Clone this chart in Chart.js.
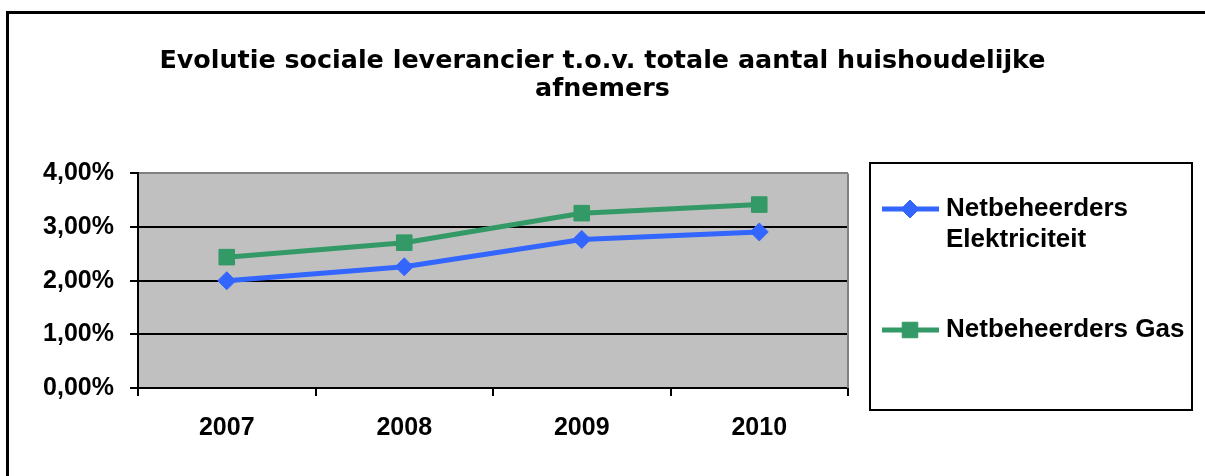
<!DOCTYPE html>
<html><head><meta charset="utf-8">
<script src="https://cdn.jsdelivr.net/npm/chart.js@4/dist/chart.umd.min.js"></script>
<style>html,body{margin:0;padding:0;background:#fff;} #wrap{width:1205px;height:476px;position:relative;}</style>
</head><body><div id="wrap"><canvas id="c" width="1205" height="476"></canvas></div>
<script>
const categories = ['2007', '2008', '2009', '2010'];
const elektriciteit = [2.00, 2.26, 2.77, 2.91];
const gas = [2.44, 2.71, 3.26, 3.42];
const seriesNames = ['Netbeheerders Elektriciteit', 'Netbeheerders Gas'];
const titleLines = ['Evolutie sociale leverancier t.o.v. totale aantal huishoudelijke', 'afnemers'];
const yMin = 0, yMax = 4, yStep = 1;

const ARIAL = '"Liberation Sans", Arial, sans-serif';
const TITLEFONT = '"DejaVu Sans", Verdana, sans-serif';

const backgroundPlugin = {
  id: 'bg',
  beforeDraw(chart) {
    const {ctx, chartArea: a} = chart;
    ctx.save();
    ctx.fillStyle = '#fff';
    ctx.fillRect(0, 0, chart.width, chart.height);
    ctx.fillStyle = '#C0C0C0';
    ctx.fillRect(a.left, a.top, a.right - a.left, a.bottom - a.top);
    ctx.restore();
  }
};

const framePlugin = {
  id: 'frame',
  afterDraw(chart) {
    const {ctx, chartArea: a} = chart;
    ctx.save();
    // right border of plot area
    ctx.strokeStyle = '#808080';
    ctx.lineWidth = 2;
    ctx.beginPath();
    ctx.moveTo(a.right, a.top);
    ctx.lineTo(a.right, a.bottom);
    ctx.stroke();
    // outer frame (top + left)
    ctx.strokeStyle = '#000';
    ctx.lineWidth = 3;
    ctx.beginPath();
    ctx.moveTo(1205, 12.5);
    ctx.lineTo(7.5, 12.5);
    ctx.lineTo(7.5, 476);
    ctx.stroke();
    // legend box
    const box = {left: 870, top: 163, right: 1192, bottom: 410};
    ctx.lineWidth = 2;
    ctx.strokeStyle = '#000';
    ctx.strokeRect(box.left, box.top, box.right - box.left, box.bottom - box.top);
    const entryY = [209, 330];
    const lineH = 31;
    ctx.font = 'bold 26px ' + ARIAL;
    ctx.textBaseline = 'middle';
    ctx.textAlign = 'left';
    chart.data.datasets.forEach((ds, i) => {
      const y = entryY[i];
      ctx.strokeStyle = ds.borderColor;
      ctx.lineWidth = ds.borderWidth;
      ctx.beginPath();
      ctx.moveTo(882, y);
      ctx.lineTo(939, y);
      ctx.stroke();
      ctx.fillStyle = ds.pointBackgroundColor;
      ctx.strokeStyle = ds.pointBorderColor;
      ctx.lineWidth = 1;
      Chart.helpers.drawPoint(ctx, {pointStyle: ds.pointStyle, radius: ds.pointRadius, rotation: 0, borderWidth: 1}, 910, y);
      // wrap text
      const words = ds.label.split(' ');
      const maxW = box.right - 946 - 2;
      const lines = [];
      let cur = '';
      words.forEach(w => {
        const t = cur ? cur + ' ' + w : w;
        if (ctx.measureText(t).width > maxW && cur) { lines.push(cur); cur = w; } else cur = t;
      });
      if (cur) lines.push(cur);
      ctx.fillStyle = '#000';
      lines.forEach((ln, k) => ctx.fillText(ln, 946, y + k * lineH));
    });
    ctx.restore();
  }
};

new Chart(document.getElementById('c'), {
  type: 'line',
  data: {
    labels: categories,
    datasets: [
      {
        label: seriesNames[0],
        data: elektriciteit,
        yAxisID: 'y',
        borderColor: '#3366FF',
        backgroundColor: '#3366FF',
        pointBackgroundColor: '#3366FF',
        pointBorderColor: '#3366FF',
        borderWidth: 5,
        pointStyle: 'rectRot',
        pointRadius: 9,
        pointBorderWidth: 1,
        tension: 0
      },
      {
        label: seriesNames[1],
        data: gas,
        yAxisID: 'y',
        borderColor: '#339966',
        backgroundColor: '#339966',
        pointBackgroundColor: '#339966',
        pointBorderColor: '#339966',
        borderWidth: 5,
        pointStyle: 'rect',
        pointRadius: 11,
        pointBorderWidth: 1,
        tension: 0
      }
    ]
  },
  options: {
    responsive: false,
    animation: false,
    layout: {padding: 0},
    plugins: {
      legend: {display: false},
      tooltip: {enabled: false},
      title: {
        display: true,
        text: titleLines,
        color: '#000',
        font: {family: TITLEFONT, size: 25.4, weight: 'bold', lineHeight: 1.1},
        padding: {top: 47, bottom: 70.6}
      }
    },
    scales: {
      x: {
        offset: true,
        grid: {offset: true, drawOnChartArea: false, drawTicks: true, tickLength: 8, color: '#000', lineWidth: 2},
        border: {color: '#000', width: 2},
        ticks: {color: '#000', font: {family: ARIAL, size: 25, weight: 'bold'}, padding: 17, maxRotation: 0},
        afterFit(scale) { scale.height = 88; }
      },
      y: {
        position: 'left',
        min: yMin, max: yMax,
        grid: {
          color: (c) => (c.tick && c.tick.value === yMax) ? '#808080' : '#000',
          tickColor: '#000',
          lineWidth: 2, tickLength: 8
        },
        border: {color: '#000', width: 2},
        ticks: {
          stepSize: yStep, color: '#000', padding: 16,
          font: {family: ARIAL, size: 25, weight: 'bold'},
          callback: (v) => v.toFixed(2).replace('.', ',') + '%'
        },
        afterFit(scale) { scale.width = 138; }
      },
      legendSpace: {
        type: 'linear',
        axis: 'y',
        position: 'right',
        display: true,
        grid: {display: false, drawTicks: false},
        border: {display: false},
        ticks: {display: false},
        afterFit(scale) { scale.width = 357; }
      }
    }
  },
  plugins: [backgroundPlugin, framePlugin]
});
</script>
</body></html>
